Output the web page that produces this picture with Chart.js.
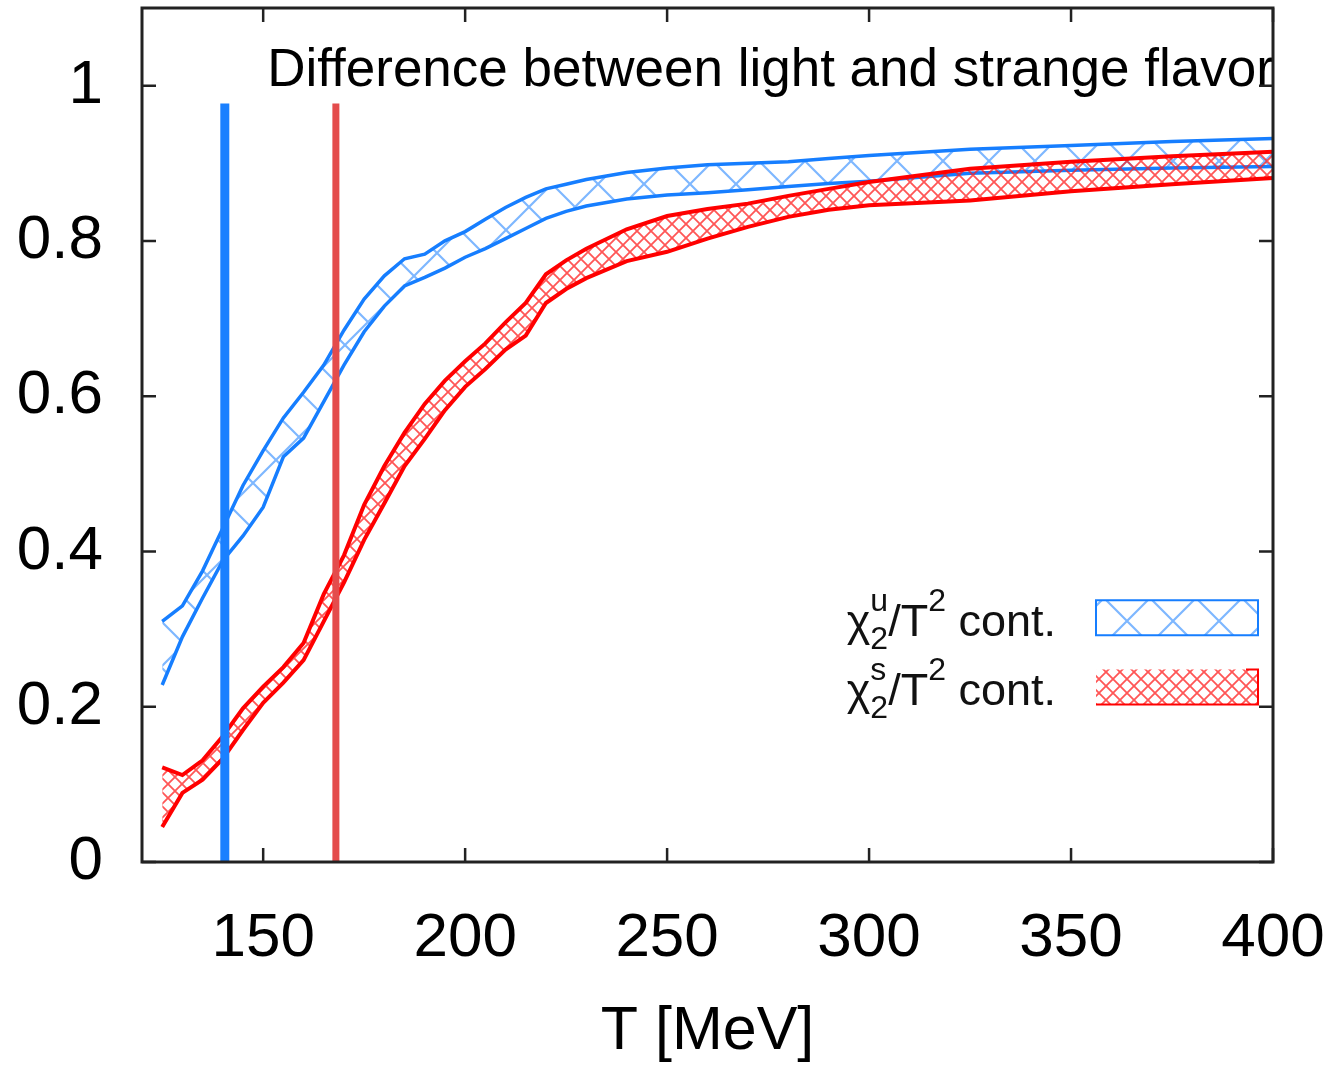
<!DOCTYPE html>
<html>
<head>
<meta charset="utf-8">
<title>chi2 light vs strange</title>
<script src="https://cdn.jsdelivr.net/npm/chart.js@4/dist/chart.umd.min.js"></script>
<style>
    html, body { margin: 0; padding: 0; background: #fff; }
    #wrap { width: 1337px; height: 1073px; }
</style>
</head>
<body>
<div id="wrap"><canvas id="chart" width="1337" height="1073"></canvas></div>
<script>
// Данные
const temps = [125, 130, 135, 140, 145, 150, 155, 160, 165, 170, 175, 180, 185, 190, 195, 200,
               205, 210, 215, 220, 225, 230, 240, 250, 260, 270, 280, 290, 300, 325, 350, 375, 400];

const lightUpper = [0.31, 0.33, 0.375, 0.43, 0.485, 0.53, 0.572, 0.605, 0.64, 0.685, 0.725, 0.755, 0.777, 0.783, 0.80, 0.812,
                    0.828, 0.843, 0.856, 0.867, 0.873, 0.879, 0.888, 0.894, 0.898, 0.90, 0.902, 0.906, 0.91, 0.918, 0.923, 0.928, 0.932];
const lightLower = [0.228, 0.29, 0.34, 0.388, 0.42, 0.457, 0.522, 0.546, 0.593, 0.64, 0.683, 0.716, 0.742, 0.753, 0.765, 0.779,
                    0.79, 0.803, 0.816, 0.829, 0.838, 0.845, 0.854, 0.859, 0.862, 0.866, 0.87, 0.874, 0.877, 0.887, 0.891, 0.894, 0.896];

const strangeUpper = [0.122, 0.112, 0.131, 0.162, 0.198, 0.226, 0.251, 0.282, 0.345, 0.395, 0.46, 0.51, 0.553, 0.59, 0.62, 0.645,
                      0.668, 0.695, 0.72, 0.757, 0.775, 0.79, 0.815, 0.832, 0.841, 0.848, 0.858, 0.867, 0.876, 0.893, 0.902, 0.909, 0.915];
const strangeLower = [0.045, 0.089, 0.106, 0.133, 0.17, 0.205, 0.231, 0.26, 0.31, 0.36, 0.415, 0.462, 0.51, 0.545, 0.582, 0.612,
                      0.635, 0.66, 0.678, 0.72, 0.738, 0.752, 0.774, 0.786, 0.803, 0.818, 0.831, 0.84, 0.846, 0.852, 0.864, 0.873, 0.881];

// Вертикальные линии (температуры переходов)
const lightTc = 140.5;
const strangeTc = 168;
const markerRange = [0, 0.977];

const xTickValues = [150, 200, 250, 300, 350, 400];
const yTickValues = [0, 0.2, 0.4, 0.6, 0.8, 1];

const titleText = 'Difference between light and strange flavor';
const xTitle = 'T [MeV]';

const BLUE = 'rgb(22, 126, 255)';
const RED = 'rgb(255, 0, 0)';
const FONT = '"Liberation Sans", Arial, Helvetica, sans-serif';

// Штриховка
function makeHatch(size, color, width) {
    const c = document.createElement('canvas');
    c.width = size;
    c.height = size;
    const g = c.getContext('2d');
    g.strokeStyle = color;
    g.lineWidth = width;
    g.beginPath();
    g.moveTo(-1, -1); g.lineTo(size + 1, size + 1);
    g.moveTo(size + 1, -1); g.lineTo(-1, size + 1);
    g.stroke();
    return g.createPattern(c, 'repeat');
}

const blueHatch = makeHatch(46, 'rgba(40, 135, 255, 0.6)', 2.2);
const redHatch = makeHatch(14, 'rgba(255, 30, 30, 0.75)', 1.8);

const toPoints = (xs, ys) => xs.map((t, i) => ({ x: t, y: ys[i] }));

// убираем автоматические отступы шкал
function noPad(s) {
    s.paddingLeft = 0;
    s.paddingRight = 0;
    s.paddingTop = 0;
    s.paddingBottom = 0;
}

// Рамка, внутренние засечки, заголовок и легенда
const decorPlugin = {
    id: 'decor',
    afterDraw(chart) {
        const { ctx, chartArea: a, scales: { x, y } } = chart;
        ctx.save();

        // заголовок
        ctx.fillStyle = '#000';
        ctx.font = '53px ' + FONT;
        ctx.textAlign = 'left';
        ctx.textBaseline = 'alphabetic';
        ctx.fillText(titleText, x.getPixelForValue(151.0), y.getPixelForValue(0.999));

        // рамка
        ctx.strokeStyle = '#222';
        ctx.lineWidth = 3;
        ctx.strokeRect(a.left, a.top, a.right - a.left, a.bottom - a.top);

        // засечки внутрь
        ctx.lineWidth = 2.5;
        ctx.beginPath();
        xTickValues.forEach(t => {
            const px = x.getPixelForValue(t);
            ctx.moveTo(px, a.bottom); ctx.lineTo(px, a.bottom - 14);
            ctx.moveTo(px, a.top); ctx.lineTo(px, a.top + 14);
        });
        yTickValues.forEach(v => {
            const py = y.getPixelForValue(v);
            ctx.moveTo(a.left, py); ctx.lineTo(a.left + 14, py);
            ctx.moveTo(a.right, py); ctx.lineTo(a.right - 14, py);
        });
        ctx.stroke();

        // легенда
        const boxL = a.right - 177, boxR = a.right - 15;
        const rows = [
            { sup: 'u', top: y.getPixelForValue(0.337), h: 35, hatch: blueHatch, color: BLUE, full: true },
            { sup: 's', top: y.getPixelForValue(0.248), h: 35, hatch: redHatch, color: RED, full: false }
        ];
        rows.forEach(r => {
            ctx.fillStyle = r.hatch;
            ctx.fillRect(boxL, r.top, boxR - boxL, r.h);
            ctx.strokeStyle = r.color;
            ctx.lineWidth = 2;
            ctx.beginPath();
            if (r.full) {
                ctx.rect(boxL, r.top, boxR - boxL, r.h);
            } else {
                ctx.moveTo(boxL, r.top + r.h); ctx.lineTo(boxR, r.top + r.h);
                ctx.lineTo(boxR, r.top); ctx.lineTo(boxR - 12, r.top);
            }
            ctx.stroke();

            // текст χ2^u/T^2 cont.
            const base = r.top + r.h + 1;
            const big = '45px ' + FONT, small = '32px ' + FONT;
            ctx.font = big;
            const wChi = ctx.measureText('χ').width;
            const wSlashT = ctx.measureText('/T').width;
            const wCont = ctx.measureText(' cont.').width;
            ctx.font = small;
            const wSub = Math.max(ctx.measureText('2').width, ctx.measureText(r.sup).width);
            const wSup2 = ctx.measureText('2').width;
            const total = wChi + wSub + wSlashT + wSup2 + wCont;
            let px = boxL - 40 - total;
            ctx.fillStyle = '#111';
            ctx.textAlign = 'left';
            ctx.font = big;
            ctx.fillText('χ', px, base); px += wChi;
            ctx.font = small;
            ctx.fillText('2', px, base + 13);
            ctx.fillText(r.sup, px, base - 25); px += wSub;
            ctx.font = big;
            ctx.fillText('/T', px, base); px += wSlashT;
            ctx.font = small;
            ctx.fillText('2', px, base - 25); px += wSup2;
            ctx.font = big;
            ctx.fillText(' cont.', px, base);
        });

        ctx.restore();
    }
};

const ctx = document.getElementById('chart').getContext('2d');
const chart = new Chart(ctx, {
    type: 'line',
    data: {
        datasets: [
            {
                label: 'chi2u upper',
                data: toPoints(temps, lightUpper),
                borderColor: BLUE,
                borderWidth: 3.5,
                pointRadius: 0,
                fill: false,
                order: 3
            },
            {
                label: 'chi2u lower',
                data: toPoints(temps, lightLower),
                borderColor: BLUE,
                borderWidth: 3.5,
                pointRadius: 0,
                backgroundColor: blueHatch,
                fill: '-1',
                order: 3
            },
            {
                label: 'chi2s upper',
                data: toPoints(temps, strangeUpper),
                borderColor: RED,
                borderWidth: 4,
                pointRadius: 0,
                fill: false,
                order: 2
            },
            {
                label: 'chi2s lower',
                data: toPoints(temps, strangeLower),
                borderColor: RED,
                borderWidth: 4,
                pointRadius: 0,
                backgroundColor: redHatch,
                fill: '-1',
                order: 2
            },
            {
                label: 'Tc light',
                data: markerRange.map(v => ({ x: lightTc, y: v })),
                borderColor: 'rgb(26, 128, 255)',
                borderWidth: 9,
                borderCapStyle: 'butt',
                pointRadius: 0,
                fill: false,
                order: 0
            },
            {
                label: 'Tc strange',
                data: markerRange.map(v => ({ x: strangeTc, y: v })),
                borderColor: 'rgb(228, 76, 76)',
                borderWidth: 7,
                borderCapStyle: 'butt',
                pointRadius: 0,
                fill: false,
                order: 1
            }
        ]
    },
    options: {
        responsive: false,
        devicePixelRatio: 1,
        animation: false,
        clip: false,
        layout: { autoPadding: false, padding: { top: 8, right: 64, left: 0, bottom: 0 } },
        plugins: {
            legend: { display: false },
            tooltip: { enabled: false }
        },
        scales: {
            x: {
                type: 'linear',
                min: 120,
                max: 400,
                grid: { display: false, drawTicks: false },
                border: { display: false },
                afterBuildTicks: s => { s.ticks = xTickValues.map(v => ({ value: v })); },
                afterFit: s => { s.height = 211; noPad(s); },
                ticks: {
                    color: '#000',
                    padding: 40,
                    maxRotation: 0,
                    font: { family: FONT, size: 62 }
                },
                title: {
                    display: true,
                    text: xTitle,
                    color: '#000',
                    padding: { top: 0, bottom: 4 },
                    font: { family: FONT, size: 61 }
                }
            },
            y: {
                min: 0,
                max: 1.1,
                grid: { display: false, drawTicks: false },
                border: { display: false },
                afterBuildTicks: s => { s.ticks = yTickValues.map(v => ({ value: v })); },
                afterFit: s => { s.width = 142; noPad(s); },
                ticks: {
                    color: '#000',
                    padding: 39,
                    font: { family: FONT, size: 62 },
                    callback: v => String(+v.toFixed(1))
                }
            }
        }
    },
    plugins: [decorPlugin]
});
</script>
</body>
</html>
